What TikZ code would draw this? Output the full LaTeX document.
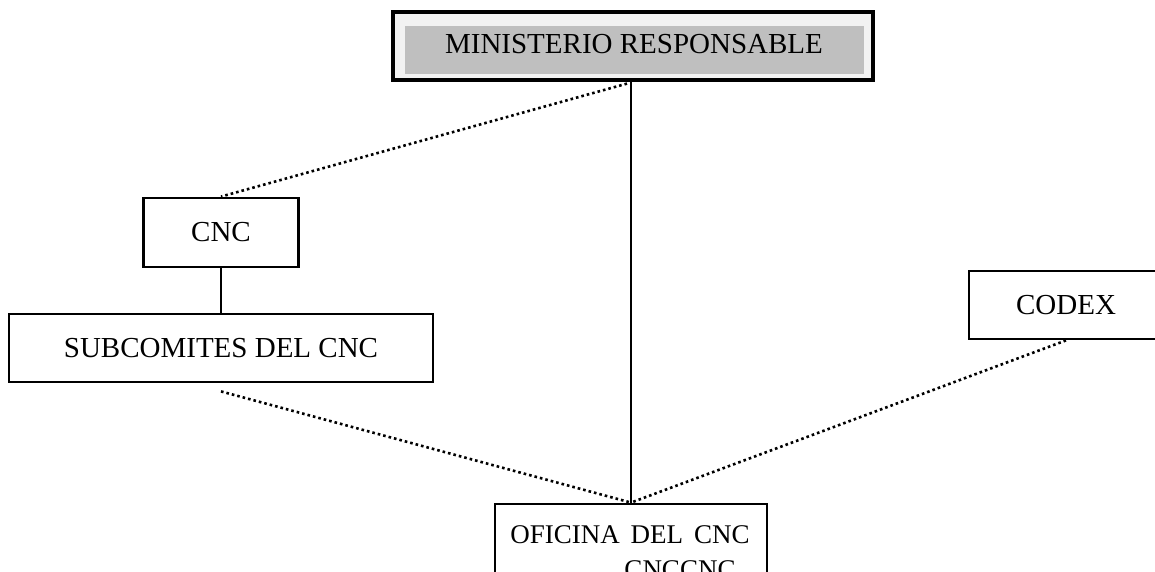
\documentclass[tikz,border=0pt]{standalone}
\usepackage{fontspec}
\setmainfont{Liberation Serif}
\usetikzlibrary{positioning}

\begin{document}
\begin{tikzpicture}[x=1pt, y=-1pt,
        caja/.style={draw, line width=2.8pt, rectangle, inner sep=0pt, font=\fontsize{29}{34}\selectfont},
        punteado/.style={line width=2.6pt, dash pattern=on 2.6pt off 3pt},
        texto/.style={inner sep=0pt, font=\fontsize{29}{34}\selectfont}]

        \useasboundingbox (0, 0) rectangle (1155, 572);
        \clip (0, 0) rectangle (1155, 572);

        \node[caja, line width=3.2pt, fill=black!5, minimum width=480pt, minimum height=68pt] (min) at (633, 46) {};
        \node[fill=black!25, inner sep=0pt, minimum width=459pt, minimum height=48pt] (mingris) at (634.5, 50) {};
        \node[texto] (mintexto) at (634, 44) {MINISTERIO RESPONSABLE};

        \node[caja, minimum width=155pt, minimum height=69pt] (cnc) at (221, 232.5) {CNC};
        \node[caja, minimum width=424pt, minimum height=68pt] (sub) at (221, 348) {SUBCOMITES DEL CNC};
        \node[caja, minimum width=194pt, minimum height=68pt] (codex) at (1066, 305) {CODEX};
        \node[caja, minimum width=272pt, minimum height=110pt] (ofi) at (631, 559) {};
        \node[texto, anchor=base, font=\fontsize{27}{32}\selectfont] (ofitexto) at (630, 543) {OFICINA\hspace{0.4em}DEL\hspace{0.4em}CNC};
        \node[texto, anchor=base, font=\fontsize{27}{32}\selectfont] (ofiresto) at (680, 578) {CNCCNC};

        \draw[line width=2.8pt] (ofi.north |- min.south) -- (ofi.north);
        \draw[line width=2.8pt] (cnc.south) -- (sub.north);
        \draw[punteado] ([xshift=-6pt, yshift=-2pt]min.south) -- (cnc.north);
        \draw[punteado] ([yshift=-8pt]sub.south) -- (ofi.north);
        \draw[punteado] (codex.south) -- (ofi.north);

      \end{tikzpicture}
\end{document}
